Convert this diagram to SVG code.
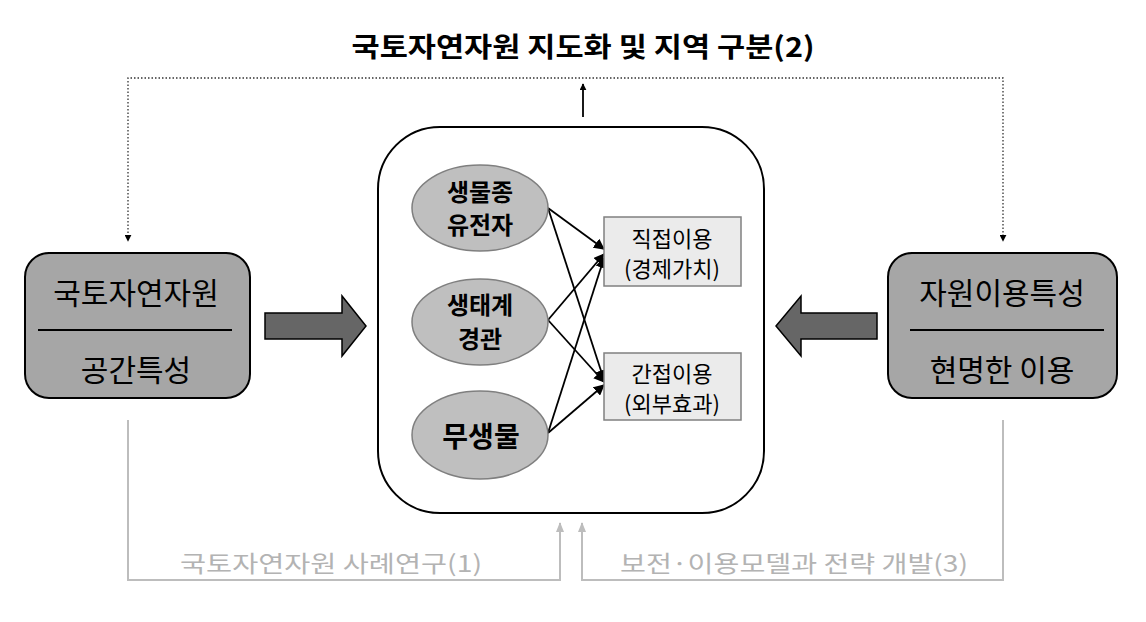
<svg xmlns="http://www.w3.org/2000/svg" width="1146" height="622" viewBox="0 0 1146 622">
<defs>
<style>
.t{font-family:"Noto Sans CJK KR","Liberation Sans",sans-serif;text-anchor:middle}
.box{fill:#a6a6a6;stroke:#000;stroke-width:2}
.ell{fill:#bfbfbf;stroke:#7f7f7f;stroke-width:1.5}
.rb{fill:#ebebeb;stroke:#808080;stroke-width:1.5}
.blk{fill:#666;stroke:#000;stroke-width:1.5}
.con{stroke:#000;stroke-width:1.8;fill:none}
.dot{stroke:#333;stroke-width:1.3;stroke-dasharray:1.5 2;fill:none}
.gry{stroke:#bdbdbd;stroke-width:2;fill:none}
</style>
<marker id="ah" viewBox="0 0 10 10" refX="9" refY="5" markerWidth="7" markerHeight="7" markerUnits="userSpaceOnUse" orient="auto"><path d="M0,0 L10,5 L0,10 z" fill="#000"/></marker>
<marker id="ah2" viewBox="0 0 10 10" refX="9" refY="5" markerWidth="11" markerHeight="11" markerUnits="userSpaceOnUse" orient="auto"><path d="M0,0 L10,5 L0,10 z" fill="#000"/></marker>
<marker id="ag" viewBox="0 0 10 10" refX="9" refY="5" markerWidth="10" markerHeight="10" markerUnits="userSpaceOnUse" orient="auto"><path d="M0,1 L10,5 L0,9 z" fill="#bdbdbd"/></marker>
</defs>
<rect width="1146" height="622" fill="#fff"/>
<text class="t" x="583" y="57" font-size="27" font-weight="bold" textLength="463" lengthAdjust="spacingAndGlyphs" fill="#000">국토자연자원 지도화 및 지역 구분(2)</text>

<g id="center">
<rect x="378" y="127" width="386" height="386" rx="62" ry="62" fill="#fff" stroke="#000" stroke-width="2"/>
</g>

<g id="connectors">
<path class="dot" d="M128,240 V78 H1003 V240" />
<line x1="128" y1="200" x2="128" y2="241" stroke="none" marker-end="url(#ah)"/>
<line x1="1003" y1="200" x2="1003" y2="241" stroke="none" marker-end="url(#ah)"/>
<line class="con" x1="583" y1="117" x2="583" y2="84" marker-end="url(#ah)" stroke-width="1.6"/>
<line class="con" x1="548" y1="208" x2="604" y2="249" marker-end="url(#ah2)"/>
<line class="con" x1="548" y1="208" x2="604" y2="380" marker-end="url(#ah2)"/>
<line class="con" x1="548" y1="320" x2="604" y2="254" marker-end="url(#ah2)"/>
<line class="con" x1="548" y1="320" x2="604" y2="382" marker-end="url(#ah2)"/>
<line class="con" x1="548" y1="433" x2="604" y2="258" marker-end="url(#ah2)"/>
<line class="con" x1="548" y1="433" x2="604" y2="385" marker-end="url(#ah2)"/>
<path class="gry" d="M128,420 V580 H560 V523" marker-end="url(#ag)"/>
<path class="gry" d="M1003,420 V580 H582 V523" marker-end="url(#ag)"/>
<path class="blk" d="M265,313 H342 V296 L366,326 L342,356 V339 H265 Z"/>
<path class="blk" d="M877,313 H801 V296 L776,326 L801,356 V339 H877 Z"/>
</g>

<g id="left-box">
<rect class="box" x="25" y="253" width="225" height="145" rx="24" ry="24"/>
<text class="t" x="136" y="304" font-size="30" fill="#000">국토자연자원</text>
<line x1="38" y1="330" x2="232" y2="330" stroke="#000" stroke-width="2"/>
<text class="t" x="136" y="381" font-size="30" fill="#000">공간특성</text>
</g>

<g id="right-box">
<rect class="box" x="888" y="253" width="229" height="145" rx="24" ry="24"/>
<text class="t" x="1002" y="304" font-size="30" fill="#000">자원이용특성</text>
<line x1="910" y1="330" x2="1104" y2="330" stroke="#000" stroke-width="2"/>
<text class="t" x="1002" y="381" font-size="30" fill="#000">현명한 이용</text>
</g>

<g id="e1">
<ellipse class="ell" cx="480" cy="208" rx="68" ry="43"/>
<text class="t" x="480" y="201" font-size="24" font-weight="bold">생물종</text>
<text class="t" x="480" y="234" font-size="24" font-weight="bold">유전자</text>
</g>
<g id="e2">
<ellipse class="ell" cx="480" cy="322" rx="68" ry="43"/>
<text class="t" x="480" y="314" font-size="24" font-weight="bold">생태계</text>
<text class="t" x="480" y="348" font-size="24" font-weight="bold">경관</text>
</g>
<g id="e3">
<ellipse class="ell" cx="480" cy="435" rx="68" ry="44"/>
<text class="t" x="481" y="447" font-size="28" font-weight="bold">무생물</text>
</g>
<g id="r1">
<rect class="rb" x="604" y="217" width="137" height="69"/>
<text class="t" x="672" y="247" font-size="22">직접이용</text>
<text class="t" x="672" y="277" font-size="22">(경제가치)</text>
</g>
<g id="r2">
<rect class="rb" x="604" y="353" width="137" height="67"/>
<text class="t" x="672" y="382" font-size="22">간접이용</text>
<text class="t" x="672" y="412" font-size="22">(외부효과)</text>
</g>

<text class="t" x="331" y="572" font-size="23" fill="#b3b3b3" textLength="302" lengthAdjust="spacingAndGlyphs">국토자연자원 사례연구(1)</text>
<text class="t" x="794" y="572" font-size="23" fill="#b3b3b3" textLength="348" lengthAdjust="spacingAndGlyphs">보전·이용모델과 전략 개발(3)</text>
</svg>
